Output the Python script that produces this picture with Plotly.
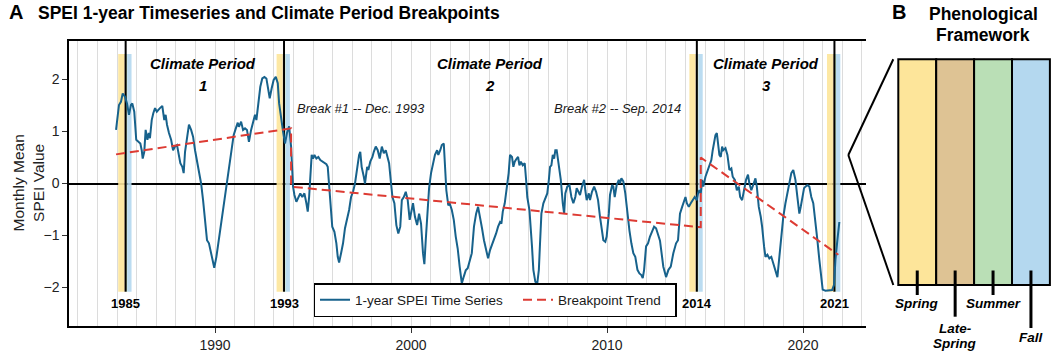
import plotly.graph_objects as go

# ---------------- data ----------------
spei_year = [
    1984.95, 1985.04, 1985.10, 1985.20, 1985.29, 1985.41, 1985.51, 1985.61, 1985.71, 1985.78,
    1985.88, 1985.98, 1986.09, 1986.19, 1986.26, 1986.31, 1986.39, 1986.46, 1986.55, 1986.62,
    1986.68, 1986.77, 1986.85, 1986.94, 1987.03, 1987.11, 1987.19, 1987.31, 1987.41, 1987.48,
    1987.55, 1987.65, 1987.76, 1987.86, 1987.96, 1988.06, 1988.13, 1988.23, 1988.33, 1988.40,
    1988.47, 1988.57, 1988.67, 1988.78, 1988.88, 1988.98, 1989.08, 1989.18, 1989.29, 1989.39,
    1989.49, 1989.59, 1989.69, 1989.80, 1989.90, 1989.96, 1990.07, 1990.17, 1990.27, 1990.34,
    1990.44, 1990.55, 1990.65, 1990.75, 1990.85, 1990.95, 1991.06, 1991.16, 1991.22, 1991.33,
    1991.43, 1991.53, 1991.63, 1991.73, 1991.84, 1991.94, 1992.04, 1992.11, 1992.21, 1992.31,
    1992.41, 1992.52, 1992.62, 1992.72, 1992.79, 1992.89, 1992.99, 1993.10, 1993.20, 1993.27,
    1993.37, 1993.47, 1993.57, 1993.67, 1993.78, 1993.88, 1993.98,
    1994.05, 1994.15, 1994.25, 1994.35, 1994.45, 1994.56, 1994.66, 1994.73, 1994.80, 1994.86,
    1994.93, 1995.00, 1995.07, 1995.17, 1995.27, 1995.37, 1995.47, 1995.58, 1995.68, 1995.75,
    1995.82, 1995.88, 1995.98, 1996.09, 1996.19, 1996.26, 1996.33, 1996.43, 1996.53, 1996.63,
    1996.73, 1996.84, 1996.94, 1997.04, 1997.14, 1997.24, 1997.35, 1997.41, 1997.48, 1997.59,
    1997.65, 1997.76, 1997.82, 1997.92, 1998.03, 1998.10, 1998.20, 1998.30, 1998.40, 1998.51,
    1998.61, 1998.71, 1998.81, 1998.88, 1998.98, 1999.05, 1999.15, 1999.25, 1999.35, 1999.45,
    1999.53, 1999.63, 1999.73, 1999.83, 1999.93, 2000.00, 2000.10, 2000.20, 2000.31, 2000.41,
    2000.51, 2000.61, 2000.68, 2000.75, 2000.85, 2000.92, 2001.02, 2001.12, 2001.22, 2001.33,
    2001.39, 2001.49, 2001.57, 2001.67, 2001.73, 2001.80, 2001.90, 2001.97, 2002.08, 2002.18,
    2002.28, 2002.38, 2002.48, 2002.59, 2002.69, 2002.79, 2002.89, 2002.99,
    2003.10, 2003.21, 2003.32, 2003.42, 2003.52, 2003.62, 2003.72, 2003.83, 2003.93, 2004.03,
    2004.13, 2004.23, 2004.34, 2004.44, 2004.54, 2004.61, 2004.68, 2004.78, 2004.88, 2004.98,
    2005.05, 2005.15, 2005.22, 2005.29, 2005.39, 2005.46, 2005.53, 2005.60, 2005.70, 2005.80,
    2005.87, 2005.93, 2006.04, 2006.11, 2006.17, 2006.24, 2006.34, 2006.44, 2006.52, 2006.58,
    2006.65, 2006.75, 2006.85, 2006.95, 2007.03, 2007.09, 2007.16, 2007.23, 2007.30, 2007.36,
    2007.43, 2007.54, 2007.64, 2007.74, 2007.81, 2007.87, 2007.97, 2008.08, 2008.18, 2008.28,
    2008.38, 2008.45, 2008.56, 2008.62, 2008.72, 2008.83, 2008.89, 2008.96, 2009.07, 2009.13,
    2009.23, 2009.34, 2009.44, 2009.54, 2009.64, 2009.74, 2009.81, 2009.91, 2009.98, 2010.09,
    2010.15, 2010.26, 2010.32, 2010.39, 2010.49, 2010.60, 2010.66, 2010.73, 2010.83, 2010.93,
    2011.04, 2011.14, 2011.24, 2011.34, 2011.44, 2011.55, 2011.65, 2011.75, 2011.82, 2011.89,
    2011.99, 2012.09, 2012.19, 2012.30, 2012.40, 2012.50, 2012.60, 2012.70,
    2012.87, 2013.01, 2013.13, 2013.25, 2013.38, 2013.52, 2013.62, 2013.72, 2013.83, 2013.93,
    2014.00, 2014.07, 2014.17, 2014.27, 2014.37, 2014.47, 2014.58, 2014.64, 2014.71, 2014.78,
    2014.85, 2014.91, 2015.02, 2015.12, 2015.22, 2015.32, 2015.39, 2015.46, 2015.53, 2015.60,
    2015.66, 2015.73, 2015.80, 2015.87, 2015.93, 2016.04, 2016.14, 2016.24, 2016.34, 2016.41,
    2016.52, 2016.62, 2016.72, 2016.79, 2016.89, 2016.99, 2017.09, 2017.19, 2017.26, 2017.36,
    2017.46, 2017.57, 2017.64, 2017.74, 2017.84, 2017.91, 2018.01, 2018.08, 2018.18, 2018.28,
    2018.38, 2018.48, 2018.59, 2018.69, 2018.79, 2018.89, 2018.99, 2019.10, 2019.20, 2019.30,
    2019.40, 2019.50, 2019.61, 2019.71, 2019.81, 2019.88, 2019.98, 2020.05, 2020.12, 2020.22,
    2020.32, 2020.42, 2020.52, 2020.63, 2020.73, 2020.83, 2020.93, 2021.00, 2021.14, 2021.31,
    2021.48, 2021.58, 2021.65, 2021.75, 2021.85,
]
spei_value = [
    1.03, 1.35, 1.51, 1.57, 1.73, 1.67, 1.54, 1.32, 1.51, 1.54,
    1.38, 0.84, 0.80, 0.77, 0.64, 0.48, 0.61, 1.03, 0.84, 0.97,
    0.87, 1.22, 1.35, 1.45, 1.38, 1.42, 1.45, 1.49, 1.22, 1.32,
    1.13, 0.97, 0.84, 0.64, 0.71, 0.74, 0.58, 0.39, 0.32, 0.20,
    0.61, 0.90, 1.13, 1.03, 0.90, 0.64, 0.45, 0.20, 0.00, -0.32,
    -0.70, -1.09, -1.15, -1.34, -1.53, -1.62, -1.41, -1.15, -0.80, -0.70,
    -0.38, -0.09, 0.13, 0.45, 0.71, 0.93, 1.06, 1.17, 1.09, 1.19,
    1.03, 1.06, 1.03, 0.80, 1.03, 1.19, 1.32, 1.22, 1.61, 1.86,
    2.02, 2.05, 2.02, 1.83, 1.64, 1.83, 1.99, 2.05, 1.93, 1.54,
    1.22, 1.00, 0.77, 0.97, 1.10, 0.71, -0.06,
    -0.22, -0.35, -0.26, -0.19, -0.26, -0.19, -0.38, -0.54, -0.26, 0.07,
    0.55, 0.48, 0.55, 0.48, 0.51, 0.45, 0.42, 0.39, 0.37, 0.32,
    -0.06, -0.38, -0.83, -0.93, -1.15, -1.41, -1.52, -1.34, -1.15, -0.86,
    -0.70, -0.51, -0.26, -0.16, 0.00, 0.29, 0.55, 0.61, 0.32, 0.13,
    0.00, 0.32, 0.26, 0.42, 0.51, 0.61, 0.71, 0.64, 0.48, 0.71,
    0.58, 0.64, 0.45, 0.39, 0.00, -0.26, -0.38, -0.80, -0.96, -0.83,
    -0.32, -0.26, -0.16, -0.32, -0.70, -0.54, -0.38, -0.64, -0.80, -0.58,
    -0.77, -1.34, -1.55, -1.09, -0.58, -0.09, 0.20, 0.35, 0.55, 0.64,
    0.55, 0.64, 0.74, 0.77, 0.32, -0.13, -0.42, -0.38, -0.51, -0.70,
    -1.02, -1.25, -1.60, -1.92, -1.79, -1.67, -1.63, -1.47,
    -1.34, -0.83, -0.58, -0.45, -0.70, -0.86, -1.09, -1.28, -1.44, -1.28,
    -1.18, -1.09, -0.96, -0.83, -0.74, -0.77, -0.54, -0.38, -0.06, 0.20,
    0.55, 0.51, 0.32, 0.42, 0.48, 0.51, 0.35, 0.42, 0.35, 0.39,
    0.07, -0.26, -0.51, -0.83, -1.21, -1.66, -1.89, -1.92, -1.66, -1.15,
    -0.58, -0.38, -0.29, -0.19, 0.07, 0.32, 0.35, 0.55, 0.48, 0.64,
    0.64, 0.32, 0.07, -0.38, -0.58, -0.19, -0.06, -0.03, -0.26, -0.38,
    -0.26, -0.09, -0.16, -0.22, -0.06, 0.07, -0.13, -0.32, -0.19, -0.32,
    -0.16, -0.06, -0.16, -0.32, -0.64, -0.96, -1.09, -1.12, -1.02, -0.58,
    -0.22, -0.03, -0.06, -0.26, -0.03, 0.07, 0.00, 0.10, 0.04, -0.19,
    -0.64, -0.90, -1.15, -1.34, -1.41, -1.66, -1.73, -1.76, -1.82, -1.66,
    -1.21, -1.15, -1.02, -0.90, -0.83, -0.86, -0.96, -1.10,
    -1.60, -1.80, -1.66, -1.60, -1.34, -1.15, -1.09, -0.58, -0.45, -0.32,
    -0.26, -0.38, -0.45, -0.38, -0.32, -0.26, -0.32, -0.19, -0.13, -0.19,
    0.07, -0.06, 0.13, 0.23, 0.35, 0.45, 0.64, 0.84, 0.93, 0.97,
    0.77, 0.55, 0.51, 0.71, 0.64, 0.68, 0.55, 0.26, 0.29, 0.13,
    0.07, -0.13, -0.06, -0.26, -0.32, -0.13, 0.07, 0.17, 0.00, -0.13,
    0.00, 0.10, -0.06, -0.45, -0.64, -0.83, -1.21, -1.41, -1.37, -1.44,
    -1.41, -1.53, -1.66, -1.80, -1.41, -1.02, -0.64, -0.38, -0.19, -0.06,
    0.20, 0.26, 0.07, -0.26, -0.58, -0.45, -0.19, -0.09, -0.06, -0.03,
    -0.06, -0.26, -0.38, -0.70, -1.09, -1.47, -1.86, -2.04, -2.06, -2.06,
    -2.05, -1.95, -1.47, -1.09, -0.74,
]

trend_year = [1984.95, 1993.88, 1993.88, 2014.78, 2014.78, 2021.80]
trend_value = [0.56, 1.06, -0.06, -0.84, 0.50, -1.37]

break_year = [1985.44, 1993.52, 2014.58, 2021.60]
break_label = ["1985", "1993", "2014", "2021"]

period_center = [1989.37, 2004.03, 2018.11]
period_label = ["1", "2", "3"]

break_text = ["Break #1 -- Dec. 1993", "Break #2 -- Sep. 2014"]
break_text_x = [1997.45, 2010.51]

stage_name = ["Spring", "Late-Spring", "Summer", "Fall"]
stage_color = ["#FDE59A", "#DEC394", "#BADFB6", "#B4D8EF"]
stage_offset = [(-0.38, -0.08), (-0.08, 0.0), (0.0, 0.08), (0.08, 0.30)]

FONT = "Liberation Sans, Arial, sans-serif"

# layout geometry (pixels)
W, H = 1052, 355
ML, MR, MT, MB = 69, 186, 41, 29
PW, PH = W - ML - MR, H - MT - MB


def pxx(px):
    return (px - ML) / PW


def pxy(py):
    return (H - MB - py) / PH


fig = go.Figure()

fig.add_trace(go.Scatter(
    x=spei_year, y=spei_value, mode="lines", name="1-year SPEI Time Series",
    line=dict(color="#17628C", width=2), legendwidth=158,
))
fig.add_trace(go.Scatter(
    x=trend_year, y=trend_value, mode="lines", name="Breakpoint Trend",
    line=dict(color="#DD3B33", width=2, dash="9px,5px"), legendwidth=112,
))

shapes = []
annotations = []

# phenological bands and break lines
for b in break_year:
    for (o0, o1), col in zip(stage_offset, stage_color):
        shapes.append(dict(type="rect", xref="x", yref="y", x0=b + o0, x1=b + o1,
                           y0=-2.08, y1=2.49, fillcolor=col, opacity=0.9,
                           line=dict(width=0), layer="between"))
for b, lab in zip(break_year, break_label):
    shapes.append(dict(type="line", xref="x", yref="y", x0=b, x1=b, y0=-2.08, y1=2.74,
                       line=dict(color="black", width=2), layer="between"))
    annotations.append(dict(x=b, y=-2.30, xref="x", yref="y", text="<b>" + lab + "</b>",
                            showarrow=False, font=dict(family=FONT, size=13, color="black")))

for c, lab in zip(period_center, period_label):
    annotations.append(dict(x=c, y=2.31, xref="x", yref="y", text="<b><i>Climate Period</i></b>",
                            showarrow=False, font=dict(family=FONT, size=15, color="black")))
    annotations.append(dict(x=c, y=1.88, xref="x", yref="y", text="<b><i>" + lab + "</i></b>",
                            showarrow=False, font=dict(family=FONT, size=15, color="black")))

for t, xx in zip(break_text, break_text_x):
    annotations.append(dict(x=xx, y=1.45, xref="x", yref="y", text="<i>" + t + "</i>",
                            showarrow=False, font=dict(family=FONT, size=13, color="#1a1a1a")))

# y-axis title
annotations.append(dict(x=pxx(28), y=pxy(183.5), xref="paper", yref="paper",
                        text="Monthly Mean<br>SPEI Value", textangle=-90, showarrow=False,
                        xanchor="center", yanchor="middle",
                        font=dict(family=FONT, size=15.5, color="#222")))

# titles
annotations.append(dict(x=pxx(15.5), y=pxy(12.5), xref="paper", yref="paper", text="<b>A</b>",
                        showarrow=False, xanchor="center", yanchor="middle",
                        font=dict(family=FONT, size=20, color="black")))
annotations.append(dict(x=pxx(36), y=pxy(13.5), xref="paper", yref="paper",
                        text="<b>SPEI 1-year Timeseries and Climate Period Breakpoints</b>",
                        showarrow=False, xanchor="left", yanchor="middle",
                        font=dict(family=FONT, size=17.5, color="black")))
annotations.append(dict(x=pxx(898.5), y=pxy(12.5), xref="paper", yref="paper", text="<b>B</b>",
                        showarrow=False, xanchor="center", yanchor="middle",
                        font=dict(family=FONT, size=20, color="black")))
annotations.append(dict(x=pxx(983), y=pxy(14.5), xref="paper", yref="paper", text="<b>Phenological</b>",
                        showarrow=False, xanchor="center", yanchor="middle",
                        font=dict(family=FONT, size=17.5, color="black")))
annotations.append(dict(x=pxx(983), y=pxy(35), xref="paper", yref="paper", text="<b>Framework</b>",
                        showarrow=False, xanchor="center", yanchor="middle",
                        font=dict(family=FONT, size=17.5, color="black")))

# panel B
box_l, col_w, box_t, box_b = 898.3, 37.9, 59.3, 285.0
vertex = (848.3, 155.0)
shapes.append(dict(type="line", xref="paper", yref="paper", x0=pxx(box_l - 5), y0=pxy(box_t),
                   x1=pxx(vertex[0]), y1=pxy(vertex[1]), line=dict(color="black", width=2)))
shapes.append(dict(type="line", xref="paper", yref="paper", x0=pxx(vertex[0]), y0=pxy(vertex[1]),
                   x1=pxx(box_l - 5), y1=pxy(box_b), line=dict(color="black", width=2)))
tick_end = [295.0, 316.7, 295.0, 328.0]
label_y = [[303.5], [328.0, 343.5], [303.5], [337.5]]
label_lines = [["Spring"], ["Late-", "Spring"], ["Summer"], ["Fall"]]
for i, col in enumerate(stage_color):
    x0 = box_l + i * col_w
    shapes.append(dict(type="rect", xref="paper", yref="paper", x0=pxx(x0), x1=pxx(x0 + col_w),
                       y0=pxy(box_b), y1=pxy(box_t), fillcolor=col,
                       line=dict(color="black", width=2)))
    cx = x0 + col_w / 2
    shapes.append(dict(type="line", xref="paper", yref="paper", x0=pxx(cx), x1=pxx(cx),
                       y0=pxy(270.5), y1=pxy(tick_end[i]), line=dict(color="black", width=3)))
    for ly, txt in zip(label_y[i], label_lines[i]):
        annotations.append(dict(x=pxx(cx), y=pxy(ly), xref="paper", yref="paper",
                                text="<b><i>" + txt + "</i></b>", showarrow=False,
                                xanchor="center", yanchor="middle",
                                font=dict(family=FONT, size=13.5, color="black")))

fig.update_layout(
    width=W, height=H,
    margin=dict(l=ML, r=MR, t=MT, b=MB, autoexpand=False),
    paper_bgcolor="white", plot_bgcolor="white",
    font=dict(family=FONT, size=14, color="#222"),
    shapes=shapes, annotations=annotations,
    showlegend=True,
    legend=dict(orientation="h", x=pxx(313.5), xanchor="left", y=pxy(300), yanchor="middle",
                bgcolor="white", bordercolor="black", borderwidth=1.5,
                font=dict(family=FONT, size=13.5, color="#1a1a1a"),
                itemwidth=30, tracegroupgap=0),
    xaxis=dict(range=[1982.55, 2023.21], tickvals=[1990, 2000, 2010, 2020],
               ticks="outside", ticklen=5, tickwidth=1.2, tickcolor="#333",
               showgrid=True, gridcolor="#DCDCDC", gridwidth=1.2,
               minor=dict(dtick=1, tick0=1983, showgrid=True, gridcolor="#DCDCDC", gridwidth=1.2, ticks=""),
               showline=True, mirror=True, linecolor="black", linewidth=1.5,
               zeroline=False, automargin=False,
               tickfont=dict(family=FONT, size=14, color="#222")),
    yaxis=dict(range=[-2.74, 2.74], tickvals=[-2, -1, 0, 1, 2],
               ticks="outside", ticklen=5, tickwidth=1.2, tickcolor="#333",
               showgrid=False, zeroline=True, zerolinecolor="black", zerolinewidth=1.5,
               showline=True, mirror=False, linecolor="black", linewidth=1.5,
               automargin=False,
               tickfont=dict(family=FONT, size=14, color="#222")),
)

fig.write_html("out.html", config={"displayModeBar": False},
               post_script="document.body.style.margin='0px';document.body.style.overflow='hidden';")
